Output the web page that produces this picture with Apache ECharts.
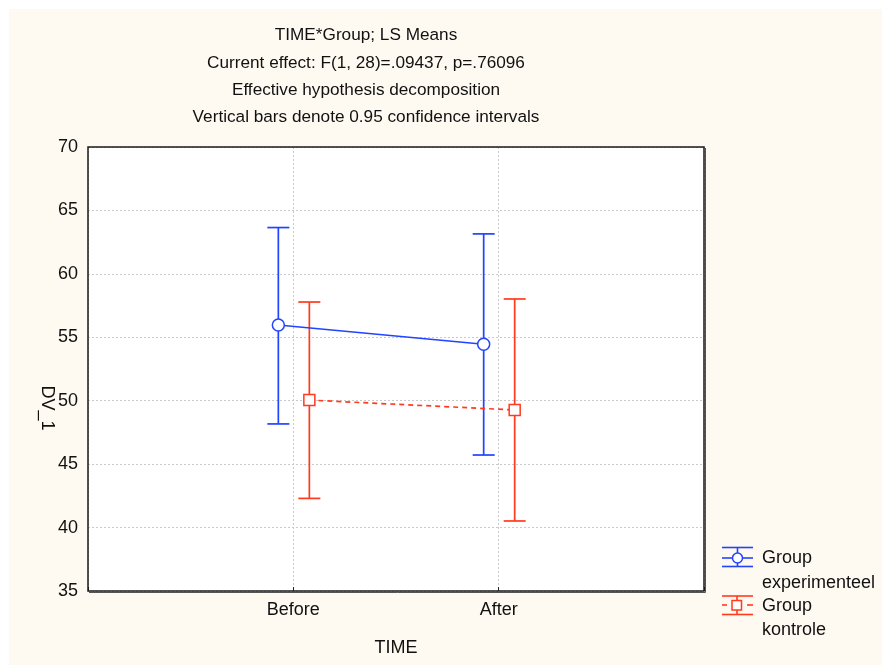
<!DOCTYPE html>
<html>
<head>
<meta charset="utf-8">
<script src="https://cdn.jsdelivr.net/npm/echarts@6/dist/echarts.min.js"></script>
<style>
html, body { margin: 0; padding: 0; background: #fff; }
#main { width: 882px; height: 665px; }
</style>
</head>
<body>
<div id="main"></div>
<script>
// data
var categories = ['Before', 'After'];
var expMean = [55.97, 54.45];
var expLow = [48.17, 45.72];
var expHigh = [63.65, 63.15];
var conMean = [50.05, 49.27];
var conLow = [42.30, 40.52];
var conHigh = [57.78, 58.02];
var titleLines = [
    'TIME*Group; LS Means',
    'Current effect: F(1, 28)=.09437, p=.76096',
    'Effective hypothesis decomposition',
    'Vertical bars denote 0.95 confidence intervals'
];
var legendNames = [['Group', 'experimenteel'], ['Group', 'kontrole']];

var BLUE = '#2144ff';
var RED = '#ff3b1f';
var FONT = '"Liberation Sans", Arial, sans-serif';
var FS = 18;

// small horizontal offsets so the two groups don't overlap
var expShift = -0.073, conShift = 0.078;

function points(means, shift) {
    return means.map(function (v, i) { return [i + 1 + shift, v]; });
}
function bars(low, high, shift) {
    return low.map(function (v, i) { return [i + 1 + shift, v, high[i]]; });
}

function errorBar(color) {
    return function (params, api) {
        var x = api.value(0);
        var lo = api.coord([x, api.value(1)]);
        var hi = api.coord([x, api.value(2)]);
        var w = 11;
        var st = { stroke: color, lineWidth: 1.7 };
        return {
            type: 'group',
            children: [
                { type: 'line', shape: { x1: lo[0], y1: lo[1], x2: hi[0], y2: hi[1] }, style: st },
                { type: 'line', shape: { x1: hi[0] - w, y1: hi[1], x2: hi[0] + w, y2: hi[1] }, style: st },
                { type: 'line', shape: { x1: lo[0] - w, y1: lo[1], x2: lo[0] + w, y2: lo[1] }, style: st }
            ]
        };
    };
}

var myChart = echarts.init(document.getElementById('main'));

var graphics = [
    { type: 'rect', z: -100, silent: true, shape: { x: 0, y: 0, width: 882, height: 665 }, style: { fill: '#fefaf1' } },
    { type: 'rect', z: -99, silent: true, shape: { x: 0, y: 0, width: 882, height: 9 }, style: { fill: '#fff' } },
    { type: 'rect', z: -99, silent: true, shape: { x: 0, y: 0, width: 9, height: 665 }, style: { fill: '#fff' } },
    // plot frame on top of the dotted split lines
    { type: 'rect', z: 50, silent: true, shape: { x: 88, y: 147, width: 616, height: 444 }, style: { fill: null, stroke: '#1a1a1a', lineWidth: 1.5 } },
    { type: 'polyline', z: 50, silent: true, shape: { points: [[705.5, 148], [705.5, 592.5], [89, 592.5]] }, style: { fill: null, stroke: '#555', lineWidth: 1 } },
    {
        type: 'text', x: 366, y: 22,
        style: { text: titleLines.join('\n'), font: '17.2px ' + FONT, fill: '#111', align: 'center', lineHeight: 27.3 }
    },
    {
        type: 'text', x: 47, y: 408, rotation: -Math.PI / 2,
        style: { text: 'DV_1', font: FS + 'px ' + FONT, fill: '#111', align: 'center', verticalAlign: 'middle' }
    },
    // legend: experimenteel
    { type: 'line', shape: { x1: 722, y1: 547.5, x2: 753, y2: 547.5 }, style: { stroke: BLUE, lineWidth: 1.6 } },
    { type: 'line', shape: { x1: 722, y1: 566.5, x2: 753, y2: 566.5 }, style: { stroke: BLUE, lineWidth: 1.6 } },
    { type: 'line', shape: { x1: 737.5, y1: 547.5, x2: 737.5, y2: 566.5 }, style: { stroke: BLUE, lineWidth: 1.6 } },
    { type: 'line', shape: { x1: 722, y1: 558, x2: 753, y2: 558 }, style: { stroke: BLUE, lineWidth: 1.6 } },
    { type: 'circle', shape: { cx: 737.5, cy: 558, r: 5 }, style: { fill: '#fff', stroke: BLUE, lineWidth: 1.5 } },
    // legend: kontrole
    { type: 'line', shape: { x1: 722, y1: 596, x2: 753, y2: 596 }, style: { stroke: RED, lineWidth: 1.6 } },
    { type: 'line', shape: { x1: 722, y1: 614.5, x2: 753, y2: 614.5 }, style: { stroke: RED, lineWidth: 1.6 } },
    { type: 'line', shape: { x1: 737, y1: 596, x2: 737, y2: 614.5 }, style: { stroke: RED, lineWidth: 1.6 } },
    { type: 'line', shape: { x1: 722, y1: 605, x2: 727, y2: 605 }, style: { stroke: RED, lineWidth: 1.6 } },
    { type: 'line', shape: { x1: 747, y1: 605, x2: 753, y2: 605 }, style: { stroke: RED, lineWidth: 1.6 } },
    { type: 'rect', shape: { x: 732, y: 600.5, width: 9.5, height: 9.5 }, style: { fill: '#fff', stroke: RED, lineWidth: 1.5 } }
];
var legendY = [[558, 583], [606.5, 630.5]];
legendNames.forEach(function (names, k) {
    names.forEach(function (t, j) {
        graphics.push({
            type: 'text', x: 762, y: legendY[k][j],
            style: { text: t, font: FS + 'px ' + FONT, fill: '#111', verticalAlign: 'middle' }
        });
    });
});

var option = {
    backgroundColor: '#fff',
    animation: false,
    textStyle: { fontFamily: FONT },
    graphic: graphics,
    grid: {
        left: 88, top: 147, width: 616, height: 444,
        show: true, backgroundColor: '#fff', borderColor: '#1a1a1a', borderWidth: 0, z: 0
    },
    xAxis: {
        type: 'value', min: 0, max: 3, interval: 1,
        name: 'TIME', nameLocation: 'middle', nameGap: 48,
        nameTextStyle: { fontSize: FS, color: '#111', fontFamily: FONT },
        axisLine: { show: false },
        axisTick: { show: true, inside: true, length: 4, lineStyle: { color: '#222' } },
        axisLabel: {
            fontSize: FS, color: '#111', margin: 10, fontFamily: FONT,
            formatter: function (v) { return categories[v - 1] || ''; }
        },
        splitLine: { show: true, lineStyle: { color: '#c9c9c9', type: [2, 2], width: 1 } }
    },
    yAxis: {
        type: 'value', min: 35, max: 70, interval: 5,
        axisLine: { show: false },
        axisTick: { show: false },
        axisLabel: { fontSize: FS, color: '#111', margin: 10, fontFamily: FONT },
        splitLine: { show: true, lineStyle: { color: '#c9c9c9', type: [2, 2], width: 1 } }
    },
    series: [
        {
            name: 'Group experimenteel bars', type: 'custom', z: 3,
            renderItem: errorBar(BLUE),
            encode: { x: 0, y: [1, 2] },
            data: bars(expLow, expHigh, expShift)
        },
        {
            name: 'Group kontrole bars', type: 'custom', z: 3,
            renderItem: errorBar(RED),
            encode: { x: 0, y: [1, 2] },
            data: bars(conLow, conHigh, conShift)
        },
        {
            name: 'Group experimenteel', type: 'line', z: 5,
            data: points(expMean, expShift),
            symbol: 'circle', symbolSize: 12,
            lineStyle: { color: BLUE, width: 1.7 },
            itemStyle: { color: '#fff', borderColor: BLUE, borderWidth: 1.5 }
        },
        {
            name: 'Group kontrole', type: 'line', z: 5,
            data: points(conMean, conShift),
            symbol: 'rect', symbolSize: 11,
            lineStyle: { color: RED, width: 1.7, type: [5, 4] },
            itemStyle: { color: '#fff', borderColor: RED, borderWidth: 1.5 }
        }
    ]
};

myChart.setOption(option);
</script>
</body>
</html>
